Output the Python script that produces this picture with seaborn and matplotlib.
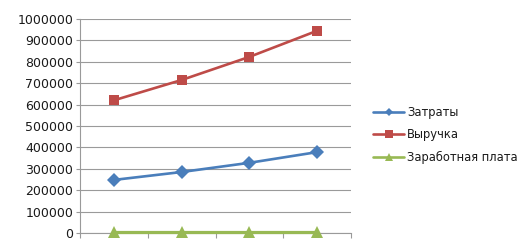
import matplotlib
matplotlib.use("Agg")
import matplotlib.pyplot as plt
import seaborn as sns
import pandas as pd

categories = [1, 2, 3, 4]
series_names = ["Затраты", "Выручка", "Заработная плата"]
zatraty = [248000, 285000, 328000, 378000]
vyruchka = [620000, 715000, 823000, 945000]
zarplata = [3000, 3000, 3000, 3000]
y_ticks = [0, 100000, 200000, 300000, 400000, 500000, 600000, 700000, 800000, 900000, 1000000]

colors = {"Затраты": "#4A7EBB", "Выручка": "#BE4B48", "Заработная плата": "#98B954"}
markers = {"Затраты": "D", "Выручка": "s", "Заработная плата": "^"}
plot_ms = {"Затраты": 6.8, "Выручка": 7.2, "Заработная плата": 8.5}

rows = []
for name, vals in zip(series_names, [zatraty, vyruchka, zarplata]):
    for i, v in enumerate(vals):
        rows.append({"idx": i, "cat": categories[i], "series": name, "value": v})
df = pd.DataFrame(rows)

sns.set_theme(style="white")
plt.rcParams["font.family"] = ["DejaVu Sans"]

fig = plt.figure(figsize=(5.30, 2.48), dpi=100)
ax = fig.add_axes([80 / 530, 1 - 233 / 248, (351 - 80) / 530, (233 - 19) / 248])

sns.lineplot(data=df, x="idx", y="value", hue="series", style="series",
             hue_order=series_names, style_order=series_names,
             palette=colors, markers=markers, dashes=False,
             linewidth=1.9, markersize=7.5, markeredgewidth=0,
             ax=ax, legend=True)

for line, name in zip(ax.lines[:3], series_names):
    line.set_markersize(plot_ms[name])
    line.set_clip_on(False)
    line.set_zorder(5)
    if name == "Заработная плата":
        line.set_linewidth(2.3)

ax.set_xlim(-0.5, 3.5)
ax.set_ylim(0, 1000000)
ax.set_yticks(y_ticks)
ax.set_yticklabels([str(t) for t in y_ticks])
ax.set_xticks([-0.5, 0.5, 1.5, 2.5, 3.5])
ax.set_xticklabels([])
ax.set_xlabel("")
ax.set_ylabel("")
ax.grid(axis="y", color="#9A9A9A", linewidth=0.8)
ax.set_axisbelow(True)
for s in ["top", "right"]:
    ax.spines[s].set_visible(False)
for s in ["left", "bottom"]:
    ax.spines[s].set_color("#9A9A9A")
    ax.spines[s].set_linewidth(0.8)
ax.tick_params(axis="y", direction="out", length=3, width=0.8, color="#9A9A9A",
               labelsize=9, labelcolor="#1a1a1a", pad=2, left=True)
ax.tick_params(axis="x", direction="out", length=3.5, width=0.8, color="#9A9A9A", bottom=True)

handles, labels = ax.get_legend_handles_labels()
if ax.get_legend():
    ax.get_legend().remove()
leg = fig.legend(handles, labels, loc="center left",
                 bbox_to_anchor=(373 / 530, 1 - 135 / 248),
                 bbox_transform=fig.transFigure, frameon=False,
                 fontsize=8.3, handlelength=2.7, handletextpad=0.25,
                 labelspacing=0.78, borderpad=0, borderaxespad=0)
for h, ms in zip(leg.legend_handles, [4.5, 6, 6]):
    h.set_markersize(ms)
for t in leg.get_texts():
    t.set_color("#1a1a1a")

fig.savefig("out.png", dpi=100)
